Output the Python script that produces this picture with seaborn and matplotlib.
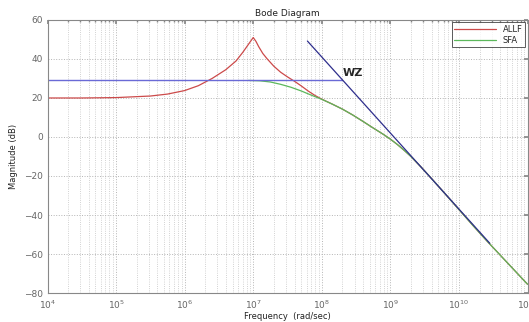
import numpy as np
import pandas as pd
import matplotlib
matplotlib.use("Agg")
import matplotlib.pyplot as plt
import seaborn as sns
from matplotlib.ticker import LogLocator, NullFormatter

# log10 of frequency (rad/sec) and magnitude (dB)
allf_logw = [4.0, 4.5, 5.0, 5.25, 5.5, 5.75, 6.0, 6.2, 6.4, 6.6, 6.75, 6.85, 6.93, 7.0,
             7.04, 7.08, 7.14, 7.2, 7.3, 7.4, 7.5, 7.6, 7.7, 7.8, 7.9, 8.0,
             8.15, 8.3, 8.45, 8.6, 8.75, 8.9, 9.0, 9.1, 9.2, 9.3, 9.45, 9.6, 9.8,
             10.0, 10.2, 10.4, 10.6, 10.8, 11.0]
allf_db = [20.0, 20.0, 20.2, 20.6, 21.0, 22.0, 23.8, 26.3, 30.0, 34.5, 39.0, 43.5, 47.5, 51.0,
           49.0, 46.3, 42.8, 40.2, 36.3, 33.2, 30.8, 28.6, 26.2, 23.6, 21.3, 19.4,
           16.9, 14.3, 11.3, 8.0, 4.6, 1.3, -1.1, -3.8, -6.8, -10.0, -15.5, -21.3, -29.2,
           -37.2, -45.2, -53.0, -60.5, -68.0, -75.5]

sfa_logw = [6.93, 7.1, 7.25, 7.4, 7.55, 7.7, 7.85, 8.0, 8.15, 8.3, 8.45, 8.6, 8.75, 8.9,
            9.0, 9.1, 9.2, 9.3, 9.45, 9.6, 9.8, 10.0, 10.2, 10.4, 10.6, 10.8, 11.0]
sfa_db = [29.0, 28.8, 28.2, 27.0, 25.5, 23.6, 21.4, 19.3, 16.9, 14.3, 11.3, 8.0, 4.6, 1.3,
          -1.1, -3.8, -6.8, -10.0, -15.5, -21.3, -29.2, -37.2, -45.2, -53.0, -60.5, -68.0, -75.5]

# asymptotes marking wz
flat_logw = [4.0, 8.3]
flat_db = [29.0, 29.0]
slope_logw = [7.79, 10.45]
slope_db = [49.2, -54.5]

sns.set_theme(style="white")
plt.rcParams['font.family'] = ['DejaVu Sans']

allf = pd.DataFrame({"w": np.power(10.0, allf_logw), "db": allf_db})
sfa = pd.DataFrame({"w": np.power(10.0, sfa_logw), "db": sfa_db})
flat = pd.DataFrame({"w": np.power(10.0, flat_logw), "db": flat_db})
slope = pd.DataFrame({"w": np.power(10.0, slope_logw), "db": slope_db})

fig = plt.figure(figsize=(5.29, 3.22), dpi=100)
ax = fig.add_axes([0.0898, 0.090, 0.9074, 0.848])

sns.lineplot(data=allf, x="w", y="db", ax=ax, color="#cc4a4a", lw=0.9, label="ALLF")
sns.lineplot(data=sfa, x="w", y="db", ax=ax, color="#5cb85c", lw=0.9, label="SFA")
sns.lineplot(data=flat, x="w", y="db", ax=ax, color="#6a6ad6", lw=1.0, legend=False)
sns.lineplot(data=slope, x="w", y="db", ax=ax, color="#2e2e8c", lw=0.9, legend=False)

ax.set_xscale("log")
ax.set_xlim(1e4, 1e11)
ax.set_ylim(-80, 60)
ax.set_yticks(range(-80, 61, 20))
ax.xaxis.set_major_locator(LogLocator(base=10, numticks=20))
ax.xaxis.set_minor_locator(LogLocator(base=10, subs=np.arange(2, 10), numticks=100))
ax.xaxis.set_minor_formatter(NullFormatter())

ax.grid(True, which="major", color="#b4b4b4", ls=":", lw=0.7)
ax.grid(True, which="minor", axis="x", color="#c4c4c4", ls=":", lw=0.6)

ax.tick_params(which="both", direction="in", top=True, right=True,
               labelsize=6.5, labelcolor="#666666", color="#888888", length=3)
ax.tick_params(which="minor", length=1.5)
ax.tick_params(axis="x", pad=4)
for s in ax.spines.values():
    s.set_color("#888888")
    s.set_linewidth(0.8)

ax.set_title("Bode Diagram", fontsize=6.5, pad=3, color="#222222")
ax.set_xlabel("Frequency  (rad/sec)", fontsize=6, labelpad=1, color="#222222")
ax.set_ylabel("Magnitude (dB)", fontsize=6, labelpad=4, color="#222222")

ax.text(10 ** 8.31, 33, "WZ", fontsize=8, fontweight="bold", va="center", ha="left")

leg = ax.legend(loc="upper right", fontsize=6, frameon=True, fancybox=False,
                edgecolor="#333333", handlelength=5, borderpad=0.3, labelspacing=0.2,
                borderaxespad=0.3)
leg.get_frame().set_linewidth(0.7)

fig.savefig("out.png", dpi=100)
plt.close(fig)
